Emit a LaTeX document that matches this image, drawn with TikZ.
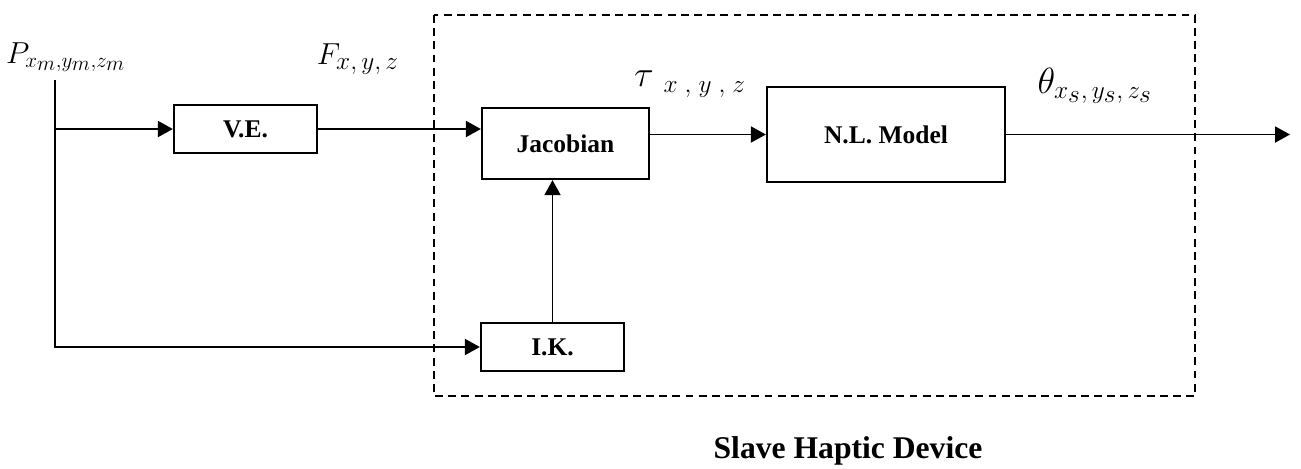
\documentclass[tikz,border=0pt]{standalone}
\usepackage{fontspec}
\setmainfont{Liberation Serif}
\usetikzlibrary{arrows.meta,positioning}

\begin{document}
\begin{tikzpicture}[x=0.02cm,y=-0.02cm,
  block/.style={draw,line width=1.3pt,minimum width=2.86cm,minimum height=0.96cm,
    inner sep=0pt,font=\fontsize{14.5}{17}\selectfont\bfseries},
  link/.style={line width=1.1pt,-{Triangle[length=0.3cm,width=0.32cm]}},
  lbl/.style={inner sep=0pt,font=\fontsize{18}{21}\selectfont}]
\useasboundingbox (0,0) rectangle (1301,468);
\draw[line width=1.4pt,dash pattern=on 4.5pt off 3pt] (434,15) rectangle (1195,396);
\node[block] (ve) at (245.5,129) {V.E.};
\node[block,minimum width=3.34cm,minimum height=1.42cm] (jac) at (565.5,143.5) {Jacobian};
\node[block,minimum width=4.76cm,minimum height=1.9cm] (nl) at (886,134.5) {N.L. Model};
\node[block] (ik) at (552.5,347) {I.K.};
\coordinate (top) at (55,80);
\coordinate (corner) at (55,347);
\coordinate (out) at (1290,134.5);
\draw[link] (top) -- (corner) -- (ik.west);
\draw[link] (ve.west -| top) -- (ve.west);
\draw[link] (ve.east) -- (ve.east -| jac.west);
\draw[link] (jac.east |- nl.west) -- (nl.west);
\draw[link] (nl.east) -- (out);
\draw[link] (ik.north) -- (ik.north |- jac.south);
\node[lbl] (pos) at (66,57) {$P_{x_{\scriptstyle m},y_{\scriptstyle m},z_{\scriptstyle m}}$};
\node[lbl,font=\fontsize{19}{22}\selectfont] (force) at (358,59) {$F_{x,\,y,\,z}$};
\node[lbl,font=\fontsize{20}{24}\selectfont] (tau) at (690,84) {$\tau_{\;\;x\;,\;y\;,\;z}$};
\node[lbl,font=\fontsize{21}{25}\selectfont] (theta) at (1095,86) {$\theta_{x_{\scriptstyle s},\,y_{\scriptstyle s},\,z_{\scriptstyle s}}$};
\node[font=\fontsize{18}{21}\selectfont\bfseries] (device) at (848,451) {Slave Haptic Device};
\end{tikzpicture}
\end{document}
